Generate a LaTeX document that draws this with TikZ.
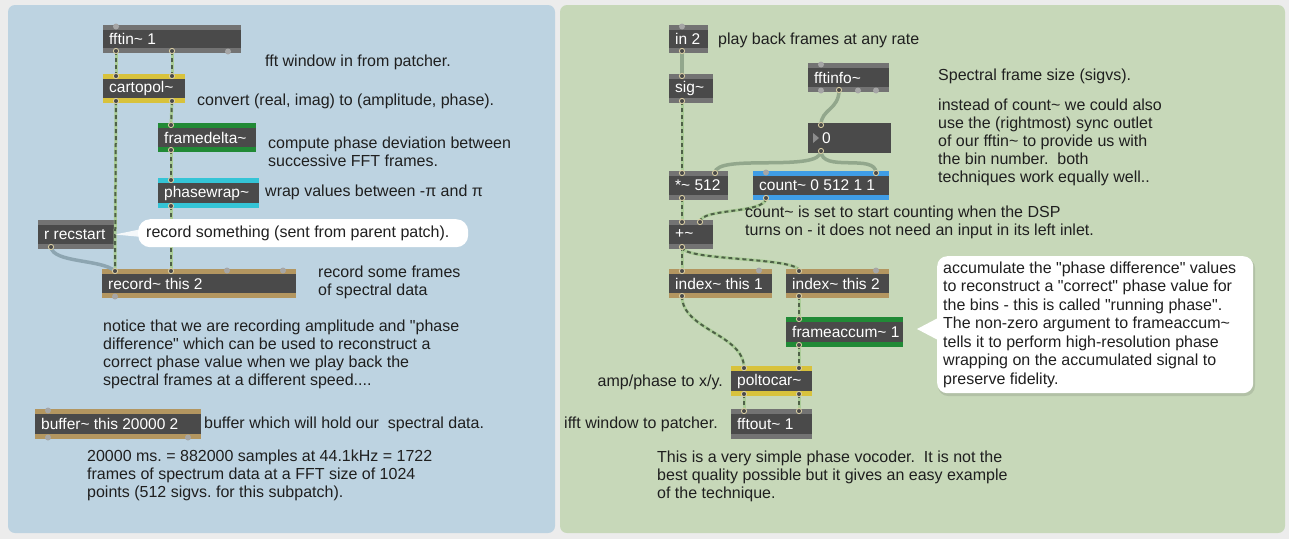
\documentclass[tikz,border=0pt]{standalone}
\usepackage{fontspec}
\setmainfont{Liberation Sans}[Ligatures=TeXOff]
\usetikzlibrary{calc}
\frenchspacing

\definecolor{bgout}{HTML}{ECECEC}
\definecolor{panelL}{HTML}{BDD3E1}
\definecolor{panelR}{HTML}{C7D8B9}
\definecolor{objbody}{HTML}{4A4A4A}
\definecolor{objband}{HTML}{737373}
\definecolor{bandyellow}{HTML}{D8C23C}
\definecolor{bandgreen}{HTML}{218A36}
\definecolor{bandcyan}{HTML}{34C4D6}
\definecolor{bandtan}{HTML}{B39660}
\definecolor{bandblue}{HTML}{3F9DE6}
\definecolor{sigbase}{HTML}{ABCD98}
\definecolor{sigdash}{HTML}{4E6147}
\definecolor{cordL}{HTML}{8DA5B1}
\definecolor{cordR}{HTML}{92A78C}
\definecolor{notetext}{HTML}{1F1F1F}
\definecolor{portgrey}{HTML}{A6A6A6}
\definecolor{ringc}{HTML}{E2D6A8}
\definecolor{numtri}{HTML}{8C8C8C}

\newcommand{\tlde}{\textasciitilde}
\newcommand{\dq}{\symbol{34}}

% a Max object box: name, x, y, width, height, band colour, text
\newcommand{\maxobj}[7]{%
  \node[objbox, minimum width=#4pt, minimum height=#5pt] (#1) at (#2,#3) {};
  \fill[#6] (#1.north west) rectangle ([yshift=-5pt]#1.north east);
  \fill[#6] (#1.south west) rectangle ([yshift=5pt]#1.south east);
  \node[objlabel] (#1-t) at ([xshift=6pt]#1.west) {#7};
}
% named inlet / outlet points, offset from the left edge of a box
\newcommand{\pin}[3]{\coordinate (#1) at ([xshift=#3pt,yshift=-2pt]#2.north west);}
\newcommand{\pout}[3]{\coordinate (#1) at ([xshift=#3pt,yshift=2pt]#2.south west);}
% unused ports: small grey bumps on the box edge
\newcommand{\freein}[2]{\fill[portgrey] ([xshift=#2pt,yshift=-1.5pt]#1.north west) circle (3pt);}
\newcommand{\freeout}[2]{\fill[portgrey] ([xshift=#2pt,yshift=1.5pt]#1.south west) circle (3pt);}

\tikzset{
  objbox/.style={rectangle, fill=objbody, inner sep=0pt, outer sep=0pt, anchor=north west, draw=none},
  objlabel/.style={anchor=west, text=white, inner sep=0pt, font=\fontsize{15.5}{18}\selectfont},
  note/.style={anchor=west, inner sep=0pt, text=notetext, align=left, font=\fontsize{16}{18}\selectfont},
  noteR/.style={note, anchor=east, align=right},
  sigcord/.style={line width=3pt, draw=sigbase, postaction={draw=sigdash, line width=2pt, dash pattern=on 4pt off 3pt}},
  msgL/.style={line width=3.5pt, draw=cordL, line cap=round},
  msgR/.style={line width=3.5pt, draw=cordR, line cap=round},
  portring/.style={fill=objbody, draw=ringc, line width=0.8pt},
}

\begin{document}
\begin{tikzpicture}[x=1pt,y=-1pt]
\fill[bgout] (0,0) rectangle (1289,539);
\useasboundingbox (0,0) rectangle (1289,539);

% the two sub-patch panels
\fill[panelL, rounded corners=7pt] (8,5) rectangle (555,533);
\fill[panelR, rounded corners=7pt] (560,5) rectangle (1285,533);

% ---------------- left panel: analysis and recording ----------------
\maxobj{fftin}{103}{25}{138}{28}{objband}{fftin\tlde\ 1}
\maxobj{cartopol}{103}{74}{82}{29}{bandyellow}{cartopol\tlde}
\maxobj{framedelta}{158}{123}{98}{29}{bandgreen}{framedelta\tlde}
\maxobj{phasewrap}{158}{178}{101}{30}{bandcyan}{phasewrap\tlde}
\maxobj{rrec}{38}{220}{77}{29}{objband}{r recstart}
\maxobj{record}{102}{269}{194}{29}{bandtan}{record\tlde\ this 2}
\maxobj{buffer}{35}{409}{166}{30}{bandtan}{buffer\tlde\ this 20000 2}

\freein{fftin}{13} \freeout{fftin}{125}
\freein{record}{125} \freein{record}{181} \freeout{record}{13}
\freein{buffer}{13} \freeout{buffer}{13} \freeout{buffer}{153}

\pout{fftin-o1}{fftin}{13}      \pout{fftin-o2}{fftin}{69}
\pin{cartopol-i1}{cartopol}{13} \pin{cartopol-i2}{cartopol}{69}
\pout{cartopol-o1}{cartopol}{13} \pout{cartopol-o2}{cartopol}{69}
\pin{framedelta-i1}{framedelta}{13} \pout{framedelta-o1}{framedelta}{13}
\pin{phasewrap-i1}{phasewrap}{13} \pout{phasewrap-o1}{phasewrap}{13}
\pout{rrec-o1}{rrec}{13}
\pin{record-i1}{record}{13} \pin{record-i2}{record}{69}

\draw[sigcord] (fftin-o1) -- (cartopol-i1);
\draw[sigcord] (fftin-o2) -- (cartopol-i2);
\draw[sigcord] (cartopol-o1) -- (record-i1);
\draw[sigcord] (cartopol-o2) -- (framedelta-i1);
\draw[sigcord] (framedelta-o1) -- (phasewrap-i1);
\draw[sigcord] (phasewrap-o1) -- (record-i2);
\draw[msgL] (rrec-o1) .. controls +(2,16) and +(-14,-12) .. (record-i1);

\foreach \p in {fftin-o1,fftin-o2,cartopol-i1,cartopol-i2,cartopol-o1,cartopol-o2,
  framedelta-i1,framedelta-o1,phasewrap-i1,phasewrap-o1,rrec-o1,record-i1,record-i2}
  \draw[portring] (\p) circle (2.6pt);

% callout for the receive object
\fill[white, opacity=0.85] (rrec.east) -- (142,229) -- (142,237) -- cycle;
\node[fill=white, rounded corners=12pt, minimum width=330pt, minimum height=28pt,
      anchor=north west, inner sep=0pt] (bubL) at (138,219) {};
\node[note] (bubL-t) at ([xshift=8pt]bubL.west) {record something (sent from parent patch).};

\node[note] (c-fftin) at (265,62) {fft window in from patcher.};
\node[note] (c-cartopol) at (197,101) {convert (real, imag) to (amplitude, phase).};
\node[note] (c-framedelta) at (268,152) {compute phase deviation between\\successive FFT frames.};
\node[note] (c-phasewrap) at (265,192) {wrap values between -π and π};
\node[note] (c-record) at (318,282) {record some frames\\of spectral data};
\node[note] (c-notice) at (103,354) {notice that we are recording amplitude and \dq phase\\difference\dq\ which can be used to reconstruct a\\correct phase value when we play back the\\spectral frames at a different speed....};
\node[note] (c-buffer) at (204,424) {buffer which will hold our\ \ spectral data.};
\node[note] (c-size) at (87,475) {20000 ms. = 882000 samples at 44.1kHz = 1722\\frames of spectrum data at a FFT size of 1024\\points (512 sigvs. for this subpatch).};

% ---------------- right panel: playback ----------------
\maxobj{in2}{669}{25}{39}{28}{objband}{in 2}
\maxobj{sig}{669}{74}{44}{29}{objband}{sig\tlde}
\maxobj{fftinfo}{808}{63}{81}{29}{objband}{fftinfo\tlde}
\maxobj{num}{808}{123}{83}{30}{objbody}{}
\maxobj{mul}{669}{171}{59}{29}{objband}{*\tlde\ 512}
\maxobj{count}{753}{171}{136}{29}{bandblue}{count\tlde\ 0 512 1 1}
\maxobj{plus}{669}{220}{44}{29}{objband}{+\tlde}
\maxobj{idxa}{669}{269}{103}{29}{bandtan}{index\tlde\ this 1}
\maxobj{idxb}{786}{269}{103}{29}{bandtan}{index\tlde\ this 2}
\maxobj{accum}{786}{317}{117}{30}{bandgreen}{frameaccum\tlde\ 1}
\maxobj{pol}{731}{366}{81}{30}{bandyellow}{poltocar\tlde}
\maxobj{fftout}{731}{409}{81}{30}{objband}{fftout\tlde\ 1}

% number box contents
\fill[numtri] ($(num.west)+(5,-5)$) -- ($(num.west)+(11,0)$) -- ($(num.west)+(5,5)$) -- cycle;
\node[objlabel] (num-v) at ([xshift=14pt]num.west) {0};

\freein{in2}{13} \freein{fftinfo}{13}
\freeout{fftinfo}{13} \freeout{fftinfo}{50} \freeout{fftinfo}{68}
\freein{count}{13} \freein{idxa}{90} \freein{idxb}{90}

\pout{in2-o1}{in2}{13}   \pin{sig-i1}{sig}{13}  \pout{sig-o1}{sig}{13}
\pout{fftinfo-o2}{fftinfo}{31} \pin{num-i1}{num}{13} \pout{num-o1}{num}{13}
\pin{mul-i1}{mul}{13} \pin{mul-i2}{mul}{46} \pout{mul-o1}{mul}{13}
\pin{count-i2}{count}{123} \pout{count-o1}{count}{13}
\pin{plus-i1}{plus}{13} \pin{plus-i2}{plus}{31} \pout{plus-o1}{plus}{13}
\pin{idxa-i1}{idxa}{13} \pout{idxa-o1}{idxa}{13}
\pin{idxb-i1}{idxb}{13} \pout{idxb-o1}{idxb}{13}
\pin{accum-i1}{accum}{13} \pout{accum-o1}{accum}{13}
\pin{pol-i1}{pol}{13} \pin{pol-i2}{pol}{68} \pout{pol-o1}{pol}{13} \pout{pol-o2}{pol}{68}
\pin{fftout-i1}{fftout}{13} \pin{fftout-i2}{fftout}{68}

\draw[msgR] (in2-o1) -- (sig-i1);
\draw[msgR] (fftinfo-o2) .. controls +(0,20) and +(0,-16) .. (num-i1);
\draw[msgR] (num-o1) .. controls +(0,22) and +(0,-20) .. (mul-i2);
\draw[msgR] (num-o1) .. controls +(0,22) and +(0,-20) .. (count-i2);
\draw[sigcord] (sig-o1) -- (mul-i1);
\draw[sigcord] (mul-o1) -- (plus-i1);
\draw[sigcord] (count-o1) .. controls +(0,16) and +(0,-14) .. (plus-i2);
\draw[sigcord] (plus-o1) -- (idxa-i1);
\draw[sigcord] (plus-o1) .. controls +(0,14) and +(0,-14) .. (idxb-i1);
\draw[sigcord] (idxa-o1) .. controls +(0,34) and +(0,-34) .. (pol-i1);
\draw[sigcord] (idxb-o1) -- (accum-i1);
\draw[sigcord] (accum-o1) -- (pol-i2);
\draw[sigcord] (pol-o1) -- (fftout-i1);
\draw[sigcord] (pol-o2) -- (fftout-i2);

\foreach \p in {in2-o1,sig-i1,sig-o1,fftinfo-o2,num-i1,num-o1,mul-i1,mul-i2,mul-o1,
  count-i2,count-o1,plus-i1,plus-i2,plus-o1,idxa-i1,idxa-o1,idxb-i1,idxb-o1,
  accum-i1,accum-o1,pol-i1,pol-i2,pol-o1,pol-o2,fftout-i1,fftout-i2}
  \draw[portring] (\p) circle (2.6pt);

\node[note] (c-in2) at (718,40) {play back frames at any rate};
\node[note] (c-fftinfo) at (938,76) {Spectral frame size (sigvs).};
\node[note] (c-instead) at (938,142) {instead of count\tlde\ we could also\\use the (rightmost) sync outlet\\of our fftin\tlde\ to provide us with\\the bin number.\ \ both\\techniques work equally well..};
\node[note] (c-count) at (745,222) {count\tlde\ is set to start counting when the DSP\\turns on - it does not need an input in its left inlet.};
\node[noteR] (c-pol) at (723,382) {amp/phase to x/y.};
\node[noteR] (c-fftout) at (718,424) {ifft window to patcher.};
\node[note] (c-vocoder) at (657,476) {This is a very simple phase vocoder.\ \ It is not the\\best quality possible but it gives an easy example\\of the technique.};

% callout for frameaccum~
\fill[black, opacity=0.10, rounded corners=10pt] (938,258) rectangle (1255,396);
\fill[white] (917,329) -- (938,318) -- (938,340) -- cycle;
\node[fill=white, rounded corners=10pt, minimum width=316pt, minimum height=137pt,
      anchor=north west, inner sep=0pt] (bubR) at (937,256) {};
\node[note, font=\fontsize{16}{18.5}\selectfont] (bubR-t) at ([xshift=6pt]bubR.west)
  {accumulate the \dq phase difference\dq\ values\\to reconstruct a \dq correct\dq\ phase value for\\the bins - this is called \dq running phase\dq .\\The non-zero argument to frameaccum\tlde\\tells it to perform high-resolution phase\\wrapping on the accumulated signal to\\preserve fidelity.};
\end{tikzpicture}
\end{document}
